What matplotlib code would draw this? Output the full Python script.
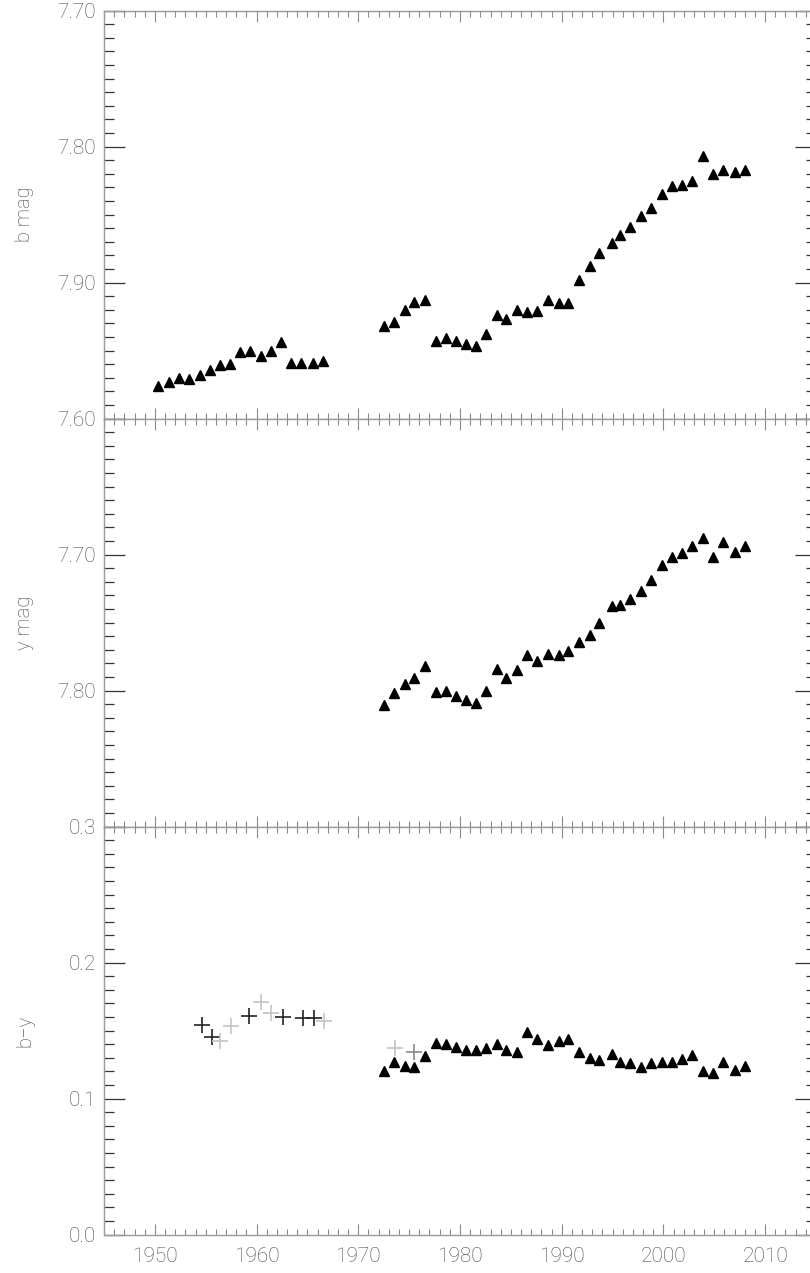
import matplotlib
matplotlib.use("Agg")
import matplotlib.pyplot as plt
from matplotlib.ticker import MultipleLocator

# yearly means
years_early = [1950.3, 1951.4, 1952.4, 1953.4, 1954.4, 1955.4, 1956.4, 1957.4, 1958.4,
               1959.4, 1960.4, 1961.4, 1962.4, 1963.4, 1964.4, 1965.5, 1966.5]
years_late = [1972.5, 1973.5, 1974.6, 1975.5, 1976.6, 1977.6, 1978.6, 1979.6, 1980.6,
              1981.6, 1982.6, 1983.6, 1984.5, 1985.6, 1986.6, 1987.6, 1988.7, 1989.7,
              1990.6, 1991.7, 1992.8, 1993.7, 1994.9, 1995.7, 1996.7, 1997.8, 1998.8,
              1999.9, 2000.8, 2001.8, 2002.8, 2003.9, 2004.9, 2005.9, 2007.0, 2008.0]

b_early = [7.976, 7.973, 7.970, 7.971, 7.968, 7.964, 7.961, 7.960, 7.951,
           7.950, 7.954, 7.950, 7.944, 7.959, 7.959, 7.959, 7.958]
b_late = [7.932, 7.929, 7.920, 7.914, 7.913, 7.943, 7.941, 7.943, 7.945,
          7.947, 7.938, 7.924, 7.927, 7.920, 7.922, 7.921, 7.913, 7.915,
          7.915, 7.898, 7.888, 7.878, 7.871, 7.865, 7.859, 7.851, 7.845,
          7.835, 7.829, 7.828, 7.825, 7.807, 7.820, 7.817, 7.819, 7.817]

y_late = [7.811, 7.802, 7.795, 7.791, 7.782, 7.801, 7.800, 7.804, 7.807,
          7.809, 7.800, 7.784, 7.791, 7.785, 7.774, 7.778, 7.773, 7.774,
          7.771, 7.764, 7.759, 7.750, 7.738, 7.737, 7.733, 7.727, 7.719,
          7.708, 7.702, 7.699, 7.694, 7.688, 7.702, 7.691, 7.698, 7.694]

by_late = [0.120, 0.127, 0.124, 0.123, 0.131, 0.141, 0.140, 0.138, 0.136,
           0.136, 0.137, 0.140, 0.136, 0.134, 0.149, 0.144, 0.139, 0.142,
           0.144, 0.134, 0.130, 0.128, 0.133, 0.127, 0.126, 0.123, 0.126,
           0.127, 0.127, 0.129, 0.132, 0.120, 0.119, 0.127, 0.121, 0.124]

# older b-y values (plus symbols), grouped by shade
by_dark_years = [1954.6, 1955.6, 1959.3, 1962.6, 1964.6, 1965.6]
by_dark = [0.154, 0.145, 0.161, 0.160, 0.159, 0.159]
by_light_years = [1956.4, 1957.5, 1960.4, 1961.4, 1966.6, 1973.6]
by_light = [0.142, 0.153, 0.171, 0.163, 0.157, 0.137]
by_mid_years = [1975.5]
by_mid = [0.134]

W, H = 810, 1273
fig = plt.figure(figsize=(W / 100, H / 100), dpi=100)

left = 104 / W
width = 712 / W
panel_h = 408 / H
bottom0 = (H - 1234.5) / H

TXT = "#4a4a4a"
FONT = ["Roboto", "DejaVu Sans"]
plt.rcParams["font.family"] = FONT


def style_axis(ax, ymajor, ylabels):
    ax.set_xlim(1945, 2015)
    ax.xaxis.set_major_locator(MultipleLocator(10))
    ax.xaxis.set_minor_locator(MultipleLocator(1))
    ax.yaxis.set_minor_locator(MultipleLocator(0.01))
    ax.set_yticks(ymajor)
    ax.set_yticklabels(ylabels)
    for s in ax.spines.values():
        s.set_color("#9a9a9a")
        s.set_linewidth(1.0)
    ax.tick_params(axis="both", which="both", direction="in", top=True, right=True,
                   labelcolor=TXT, labelsize=15)
    ax.tick_params(axis="x", which="both", colors="#8a8a8a", labelcolor=TXT)
    ax.tick_params(axis="y", which="both", colors="#333333", labelcolor=TXT)
    ax.tick_params(axis="x", which="major", length=8, width=0.8, pad=9)
    ax.tick_params(axis="x", which="minor", length=4, width=0.8)
    ax.tick_params(axis="y", which="major", length=15, width=0.9, pad=6)
    ax.tick_params(axis="y", which="minor", length=7, width=0.9)
    for lab in ax.get_xticklabels() + ax.get_yticklabels():
        lab.set_fontweight("light")


mk = dict(marker="^", ms=7.5, color="black", linestyle="none")

# top: b mag
ax1 = fig.add_axes([left, bottom0 + 2 * panel_h, width, panel_h])
ax1.plot(years_early, b_early, **mk)
ax1.plot(years_late, b_late, **mk)
ax1.set_ylim(8.00, 7.70)
style_axis(ax1, [7.70, 7.80, 7.90, 8.00], ["7.70", "7.80", "7.90", ""])
ax1.tick_params(axis="x", labelbottom=False)
ax1.set_ylabel("b mag", fontsize=14.5, color=TXT, fontweight="light")

# middle: y mag
ax2 = fig.add_axes([left, bottom0 + panel_h, width, panel_h])
ax2.plot(years_late, y_late, **mk)
ax2.set_ylim(7.90, 7.60)
style_axis(ax2, [7.60, 7.70, 7.80, 7.90], ["7.60", "7.70", "7.80", ""])
ax2.tick_params(axis="x", labelbottom=False)
ax2.set_ylabel("y mag", fontsize=14.5, color=TXT, fontweight="light")

# bottom: b-y
ax3 = fig.add_axes([left, bottom0, width, panel_h])
ax3.plot(years_late, by_late, **mk)
ax3.plot(by_dark_years, by_dark, marker="+", ms=12, mew=1.2, color="#222222", linestyle="none")
ax3.plot(by_light_years, by_light, marker="+", ms=12, mew=1.2, color="#c4c4c4", linestyle="none")
ax3.plot(by_mid_years, by_mid, marker="+", ms=12, mew=1.2, color="#8a8a8a", linestyle="none")
ax3.set_ylim(0.0, 0.3)
style_axis(ax3, [0.0, 0.1, 0.2, 0.3], ["0.0", "0.1", "0.2", "0.3"])
ax3.set_ylabel("b\u2212y", fontsize=14.5, color=TXT, fontweight="light")

for ax in (ax1, ax2, ax3):
    ax.yaxis.set_label_coords(-0.098, 0.5)

fig.savefig("out.png", dpi=100)
